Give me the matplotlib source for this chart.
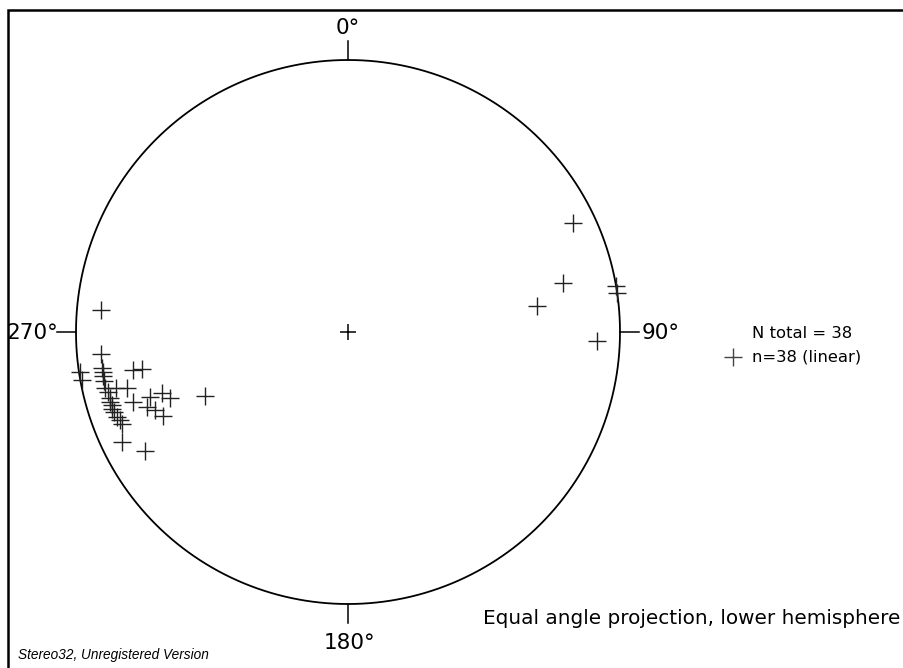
import matplotlib
matplotlib.use("Agg")
import matplotlib.pyplot as plt
import numpy as np

# lineations: trend / plunge in degrees
trend = [64.2, 77.2, 82.2, 80.3, 81.8, 92.1,
         275.1, 264.9, 261.5, 259.8, 261.7, 259.8, 258.6, 257.0, 256.4, 255.8,
         260.0, 259.8, 254.5, 253.6, 252.8, 251.9, 249.8, 247.9, 244.0, 239.6,
         252.0, 251.8, 251.8, 249.7, 249.5, 248.0, 245.6, 245.9, 260.7, 256.0,
         251.1, 248.9]
plunge = [4.8, 12.0, 19.9, 0.0, 0.0, 5.0,
          5.3, 5.3, 0.2, 0.4, 5.1, 5.0, 5.0, 5.0, 7.5, 10.1,
          12.5, 14.8, 5.5, 5.3, 5.5, 5.3, 5.7, 6.2, 4.5, 8.3,
          10.5, 15.1, 18.5, 20.2, 13.5, 15.1, 16.5, 30.1, 5.3, 5.4,
          5.4, 6.1]

dir_labels = ["0°", "90°", "180°", "270°"]
legend_lines = ["N total = 38", "n=38 (linear)"]
title = "Equal angle projection, lower hemisphere"
footer = "Stereo32, Unregistered Version"

W, H = 904, 668
CX, CY, R = 348, 332, 272


def px(x, y):
    # pixel position -> net coordinates (unit circle)
    return (x - CX) / R, (CY - y) / R


def stereo(tr, pl):
    tr = np.radians(tr)
    pl = np.radians(pl)
    r = np.tan((np.pi / 2 - pl) / 2)
    return r * np.sin(tr), r * np.cos(tr)


fig = plt.figure(figsize=(W / 100, H / 100), dpi=100)
ax = fig.add_axes([0, 0, 1, 1])
x0, y1 = px(0, 0)
x1, y0 = px(W, H)
ax.set_xlim(x0, x1)
ax.set_ylim(y0, y1)
ax.axis("off")

# frame (only left and top visible)
fx, fy = px(8, 10)
ax.plot([fx, fx, x1], [y0, fy, fy], color="black", lw=1.8, solid_joinstyle="miter")

# primitive circle
t = np.linspace(0, 2 * np.pi, 721)
ax.plot(np.cos(t), np.sin(t), color="black", lw=1.3)

# direction ticks
tk = 19 / R
ax.plot([0, 0], [1, 1 + tk], color="black", lw=1.1)
ax.plot([0, 0], [-1, -1 - tk], color="black", lw=1.1)
ax.plot([1, 1 + tk], [0, 0], color="black", lw=1.1)
ax.plot([-1, -1 - tk], [0, 0], color="black", lw=1.1)

fnt = "DejaVu Sans"
ax.text(*px(348, 28), dir_labels[0], ha="center", va="center", fontsize=15.5, family=fnt)
ax.text(*px(642, 333), dir_labels[1], ha="left", va="center", fontsize=15.5, family=fnt)
ax.text(*px(350, 643), dir_labels[2], ha="center", va="center", fontsize=15.5, family=fnt)
ax.text(*px(58, 333), dir_labels[3], ha="right", va="center", fontsize=15.5, family=fnt)

# centre mark
ax.plot(0, 0, marker="+", ms=12, mew=1.1, color="black")

# data
xs, ys = stereo(np.array(trend), np.array(plunge))
ax.plot(xs, ys, ls="none", marker="+", ms=13, mew=1.0, color="#222222")

# legend
ax.plot(*px(733, 357), marker="+", ms=13, mew=1.0, color="#444444")
ax.text(*px(752, 333), legend_lines[0], ha="left", va="center", fontsize=11.8, family=fnt)
ax.text(*px(752, 357), legend_lines[1], ha="left", va="center", fontsize=11.8, family=fnt)

ax.text(*px(900, 619), title, ha="right", va="center", fontsize=14.4, family=fnt)
ax.text(*px(18, 655), footer, ha="left", va="center", fontsize=9.8,
        family="Liberation Sans", style="italic")

fig.savefig("out.png", dpi=100)
